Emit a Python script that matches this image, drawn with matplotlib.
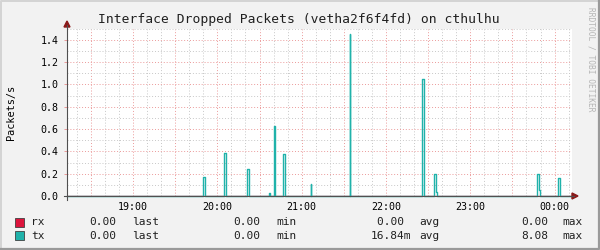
import numpy as np
import matplotlib
matplotlib.use("Agg")
import matplotlib.pyplot as plt
from matplotlib.lines import Line2D
from matplotlib.patches import Rectangle, Polygon

# time axis in minutes after 18:00
t_start = 13.0
t_end = 372.4
hour_ticks = [60, 120, 180, 240, 300, 360]
hour_labels = ["19:00", "20:00", "21:00", "22:00", "23:00", "00:00"]

# tx spikes (start min, end min, packets/s); rx stays at zero
tx_start = [109.5, 124.6, 126.0, 141.0, 157.1, 160.6, 166.4, 186.3, 214.1, 266.0, 274.1, 275.5, 347.4, 348.8, 362.3]
tx_end = [110.9, 126.0, 126.5, 142.4, 157.8, 161.3, 167.8, 186.9, 214.7, 267.4, 275.5, 276.4, 348.8, 349.4, 363.7]
tx_value = [0.17, 0.39, 0.10, 0.24, 0.025, 0.625, 0.375, 0.11, 1.45, 1.045, 0.195, 0.04, 0.20, 0.05, 0.16]

y_max = 1.5
y_ticks = [0.0, 0.2, 0.4, 0.6, 0.8, 1.0, 1.2, 1.4]

series = ["rx", "tx"]
colors = ["#DC143C", "#20B2AA"]
last_vals = ["0.00", "0.00"]
min_vals = ["0.00", "0.00"]
avg_vals = ["0.00 ", "16.84m"]
max_vals = ["0.00", "8.08"]

W, H = 600, 250
mono = "DejaVu Sans Mono"

def px(x, y):
    return x / W, 1 - y / H

fig = plt.figure(figsize=(6, 2.5), dpi=100, facecolor="#f2f2f2")
L, R, B, T = 67, 572, 196, 28.7
ax = fig.add_axes([L / W, 1 - B / H, (R - L) / W, (B - T) / H])
ax.set_facecolor("white")
ax.set_xlim(t_start, t_end)
ax.set_ylim(0, y_max)

# grid
for m in np.arange(10, t_end, 10):
    if m % 30 == 0:
        ax.axvline(m, color="#eb9a9a", lw=0.7, ls=(0, (1, 2)), zorder=1)
    else:
        ax.axvline(m, color="#c8c8c8", lw=0.7, ls=(0, (1, 2)), zorder=1)
for v in np.arange(0.1, y_max + 0.01, 0.1):
    if round(v * 10) % 2 == 0:
        ax.axhline(v, color="#eb9a9a", lw=0.7, ls=(0, (1, 2)), zorder=1)
    else:
        ax.axhline(v, color="#c8c8c8", lw=0.7, ls=(0, (1, 2)), zorder=1)

# build step line for tx
xs = [t_start]
ys = [0.0]
for i in range(len(tx_start)):
    if tx_start[i] > xs[-1] or ys[-1] != 0:
        xs.append(tx_start[i])
        ys.append(tx_value[i])
    if i + 1 < len(tx_start) and tx_start[i + 1] == tx_end[i]:
        continue
    xs.append(tx_end[i])
    ys.append(0.0)
xs.append(t_end)
ys.append(0.0)

ax.step([t_start, t_end], [0, 0], where="post", color=colors[0], lw=1.0, zorder=3)
ax.step(xs, ys, where="post", color=colors[1], lw=1.0, zorder=4, clip_on=False)

for s in ax.spines.values():
    s.set_visible(False)

ax.set_xticks(hour_ticks)
ax.set_xticklabels(hour_labels, family=mono, fontsize=7.2)
ax.set_yticks(y_ticks)
ax.set_yticklabels(["%.1f" % v for v in y_ticks], family=mono, fontsize=7.2)
ax.tick_params(axis="both", length=2, width=0.7, color="#eb9a9a", pad=4)
ax.tick_params(axis="x", length=0, pad=4)
ax.set_ylabel("Packets/s", family=mono, fontsize=7.4, labelpad=4)
ax.yaxis.set_label_coords(-0.1, 0.5)

# axes lines and arrows
fig.add_artist(Line2D(*zip(px(L, 200), px(L, 25)), color="#505050", lw=0.8))
fig.add_artist(Line2D(*zip(px(64, B), px(R + 2, B)), color="#505050", lw=0.8))
fig.add_artist(Polygon([px(64, 27), px(70, 27), px(67, 21)], closed=True, color="#8b1a1a"))
fig.add_artist(Polygon([px(572, 193), px(572, 199), px(578, B)], closed=True, color="#8b1a1a"))

# title and watermark
fig.text(*px(299, 19), "Interface Dropped Packets (vetha2f6f4fd) on cthulhu",
         family=mono, fontsize=9.4, ha="center", va="center", color="#202020")
fig.text(*px(591, 59), "RRDTOOL / TOBI OETIKER", family=mono, fontsize=5.7,
         rotation=270, ha="center", va="center", color="#b5b5b5")

# legend rows
row_y = [222.3, 235.7]
for i in range(len(series)):
    y = row_y[i]
    fig.add_artist(Rectangle(px(15, y + 4.5), 9 / W, 9 / H, facecolor=colors[i],
                             edgecolor="#404040", lw=0.6))
    fig.text(*px(31, y), series[i], family=mono, fontsize=8, va="center", color="#202020")
    fig.text(*px(116.7, y), last_vals[i], family=mono, fontsize=8, va="center", ha="right", color="#202020")
    fig.text(*px(131.7, y), "last", family=mono, fontsize=8, va="center", color="#202020")
    fig.text(*px(260.7, y), min_vals[i], family=mono, fontsize=8, va="center", ha="right", color="#202020")
    fig.text(*px(276, y), "min", family=mono, fontsize=8, va="center", color="#202020")
    fig.text(*px(411, y), avg_vals[i], family=mono, fontsize=8, va="center", ha="right", color="#202020")
    fig.text(*px(419.3, y), "avg", family=mono, fontsize=8, va="center", color="#202020")
    fig.text(*px(548.3, y), max_vals[i], family=mono, fontsize=8, va="center", ha="right", color="#202020")
    fig.text(*px(562.7, y), "max", family=mono, fontsize=8, va="center", color="#202020")

# 3d frame
fig.add_artist(Line2D(*zip(px(0.5, 249), px(0.5, 0.5), px(599, 0.5)), color="#d4d4d4", lw=1.4))
fig.add_artist(Line2D(*zip(px(1, 248.5), px(598.5, 248.5), px(598.5, 1)), color="#9a9a9a", lw=1.6))

fig.savefig("out.png", dpi=100, facecolor=fig.get_facecolor())
